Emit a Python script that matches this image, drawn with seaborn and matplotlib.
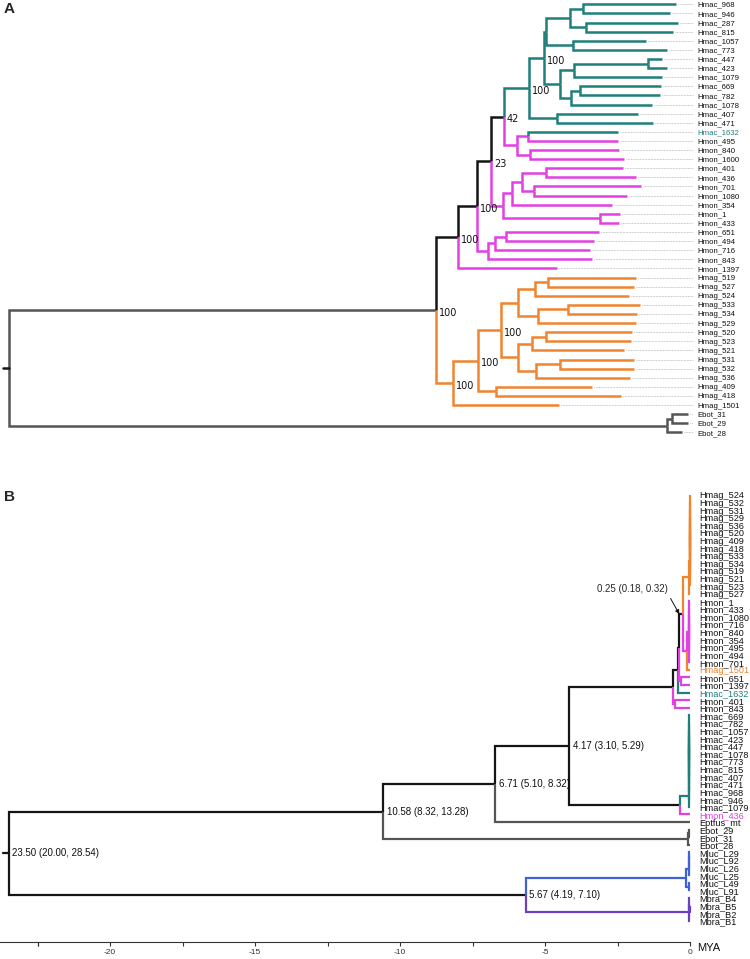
import matplotlib
matplotlib.use("Agg")
import matplotlib.pyplot as plt
import seaborn as sns

sns.set_theme(style="white")
plt.rcParams["font.family"] = ["Liberation Sans", "DejaVu Sans"]

# ---------------- panel A : ML tree (distance from root, arbitrary units) ----------------
tips_a = ["Hmac_968", "Hmac_946", "Hmac_287", "Hmac_815", "Hmac_1057", "Hmac_773",
          "Hmac_447", "Hmac_423", "Hmac_1079", "Hmac_669", "Hmac_782", "Hmac_1078",
          "Hmac_407", "Hmac_471", "Hmac_1632",
          "Hmon_495", "Hmon_840", "Hmon_1600", "Hmon_401", "Hmon_436", "Hmon_701",
          "Hmon_1080", "Hmon_354", "Hmon_1", "Hmon_433", "Hmon_651", "Hmon_494",
          "Hmon_716", "Hmon_843", "Hmon_1397",
          "Hmag_519", "Hmag_527", "Hmag_524", "Hmag_533", "Hmag_534", "Hmag_529",
          "Hmag_520", "Hmag_523", "Hmag_521", "Hmag_531", "Hmag_532", "Hmag_536",
          "Hmag_409", "Hmag_418", "Hmag_1501",
          "Ebot_31", "Ebot_29", "Ebot_28"]
tip_depth_a = [6.67, 6.61, 6.69, 6.64, 6.37, 6.58,
               6.53, 6.58, 6.53, 6.52, 6.51, 6.43,
               6.29, 6.44, 6.09,
               6.09, 6.10, 6.15, 6.14, 6.27, 6.32,
               6.18, 6.03, 6.11, 6.10, 5.90, 5.85,
               5.81, 5.83, 5.48,
               6.27, 6.25, 6.20, 6.31, 6.28, 6.27,
               6.23, 6.22, 6.15, 6.25, 6.25, 6.21,
               5.83, 6.12, 5.50,
               6.79, 6.79, 6.73]
# (node, children, depth, bootstrap)
nodes_a = [
    ("a1", ["Hmac_968", "Hmac_946"], 5.74, ""),
    ("a2", ["Hmac_287", "Hmac_815"], 5.77, ""),
    ("a3", ["a1", "a2"], 5.61, ""),
    ("a4", ["Hmac_1057", "Hmac_773"], 5.64, ""),
    ("a5", ["a3", "a4"], 5.37, ""),
    ("a6", ["Hmac_447", "Hmac_423"], 6.39, ""),
    ("a7", ["a6", "Hmac_1079"], 5.65, ""),
    ("a8", ["Hmac_669", "Hmac_782"], 5.71, ""),
    ("a9", ["a8", "Hmac_1078"], 5.62, ""),
    ("a10", ["a7", "a9"], 5.51, ""),
    ("a11", ["a5", "a10"], 5.35, "100"),
    ("a12", ["Hmac_407", "Hmac_471"], 5.48, ""),
    ("hmac", ["a11", "a12"], 5.20, "100"),
    ("m1", ["Hmac_1632", "Hmon_495"], 5.19, ""),
    ("m2", ["Hmon_840", "Hmon_1600"], 5.21, ""),
    ("m3", ["m1", "m2"], 5.08, ""),
    ("n42", ["hmac", "m3"], 4.95, "42"),
    ("m4", ["Hmon_401", "Hmon_436"], 5.37, ""),
    ("m5", ["Hmon_701", "Hmon_1080"], 5.25, ""),
    ("m6", ["m4", "m5"], 5.13, ""),
    ("m7", ["m6", "Hmon_354"], 5.03, ""),
    ("m8", ["Hmon_1", "Hmon_433"], 5.91, ""),
    ("m9", ["m7", "m8"], 4.94, ""),
    ("n23", ["n42", "m9"], 4.82, "23"),
    ("m10", ["Hmon_651", "Hmon_494"], 4.97, ""),
    ("m11", ["m10", "Hmon_716"], 4.86, ""),
    ("m12", ["m11", "Hmon_843"], 4.79, ""),
    ("na2", ["n23", "m12"], 4.68, "100"),
    ("na1", ["na2", "Hmon_1397"], 4.49, "100"),
    ("g1", ["Hmag_519", "Hmag_527"], 5.39, ""),
    ("g2", ["g1", "Hmag_524"], 5.26, ""),
    ("g3", ["Hmag_533", "Hmag_534"], 5.59, ""),
    ("g4", ["g3", "Hmag_529"], 5.29, ""),
    ("g5", ["g2", "g4"], 5.09, ""),
    ("g6", ["Hmag_520", "Hmag_523"], 5.37, ""),
    ("g7", ["g6", "Hmag_521"], 5.23, ""),
    ("g8", ["Hmag_531", "Hmag_532"], 5.51, ""),
    ("g9", ["g8", "Hmag_536"], 5.27, ""),
    ("g10", ["g7", "g9"], 5.09, ""),
    ("g11", ["g5", "g10"], 4.92, "100"),
    ("g12", ["Hmag_409", "Hmag_418"], 4.87, ""),
    ("g13", ["g11", "g12"], 4.69, "100"),
    ("hmag", ["g13", "Hmag_1501"], 4.44, "100"),
    ("ingroup", ["na1", "hmag"], 4.27, "100"),
    ("e1", ["Ebot_31", "Ebot_29"], 6.63, ""),
    ("ebot", ["e1", "Ebot_28"], 6.58, ""),
    ("root", ["ingroup", "ebot"], 0.0, ""),
]

# ---------------- panel B : time tree (age, MYA) ----------------
tips_b = ["Hmag_524", "Hmag_532", "Hmag_531", "Hmag_529", "Hmag_536", "Hmag_520",
          "Hmag_409", "Hmag_418", "Hmag_533", "Hmag_534", "Hmag_519", "Hmag_521",
          "Hmag_523", "Hmag_527",
          "Hmon_1", "Hmon_433", "Hmon_1080", "Hmon_716", "Hmon_840", "Hmon_354",
          "Hmon_495", "Hmon_494", "Hmon_701", "Hmag_1501", "Hmon_651", "Hmon_1397",
          "Hmac_1632", "Hmon_401", "Hmon_843",
          "Hmac_669", "Hmac_782", "Hmac_1057", "Hmac_423", "Hmac_447", "Hmac_1078",
          "Hmac_773", "Hmac_815", "Hmac_407", "Hmac_471", "Hmac_968", "Hmac_946",
          "Hmac_1079", "Hmon_436",
          "Eptfus_mt", "Ebot_29", "Ebot_31", "Ebot_28",
          "Mluc_L29", "Mluc_L92", "Mluc_L26", "Mluc_L25", "Mluc_L49", "Mluc_L91",
          "Mbra_B4", "Mbra_B5", "Mbra_B2", "Mbra_B1"]
# (node, children, age in MYA, annotation)
nodes_b = [
    ("b_mag1", tips_b[0:12], 0.01, ""),
    ("b_mag2", ["b_mag1", "Hmag_523"], 0.015, ""),
    ("b_mag", ["b_mag2", "Hmag_527"], 0.02, ""),
    ("b_mon1", tips_b[14:23], 0.05, ""),
    ("b_mon", ["b_mon1", "Hmag_1501"], 0.12, ""),
    ("b025", ["b_mag", "b_mon"], 0.25, ""),
    ("b_k", ["Hmon_651", "Hmon_1397"], 0.30, ""),
    ("b_t", ["b025", "b_k"], 0.38, ""),
    ("b_u", ["b_t", "Hmac_1632"], 0.42, ""),
    ("b_p", ["Hmon_401", "Hmon_843"], 0.52, ""),
    ("b_s", ["b_u", "b_p"], 0.58, ""),
    ("b_mac1", tips_b[29:39], 0.02, ""),
    ("b_mac2", ["b_mac1", "Hmac_968"], 0.03, ""),
    ("b_mac3", ["b_mac2", "Hmac_946"], 0.04, ""),
    ("b_mac", ["b_mac3", "Hmac_1079"], 0.05, ""),
    ("b_macall", ["b_mac", "Hmon_436"], 0.34, ""),
    ("b417", ["b_s", "b_macall"], 4.17, "4.17 (3.10, 5.29)"),
    ("b671", ["b417", "Eptfus_mt"], 6.71, "6.71 (5.10, 8.32)"),
    ("b_eb1", ["Ebot_29", "Ebot_31"], 0.02, ""),
    ("b_eb", ["b_eb1", "Ebot_28"], 0.06, ""),
    ("b1058", ["b671", "b_eb"], 10.58, "10.58 (8.32, 13.28)"),
    ("b_ml1", ["Mluc_L29", "Mluc_L92"], 0.02, ""),
    ("b_ml2", ["b_ml1", "Mluc_L26"], 0.03, ""),
    ("b_ml3", ["b_ml2", "Mluc_L25"], 0.04, ""),
    ("b_ml4", ["Mluc_L49", "Mluc_L91"], 0.02, ""),
    ("b_ml", ["b_ml3", "b_ml4"], 0.14, ""),
    ("b_mb1", ["Mbra_B5", "Mbra_B2"], 0.01, ""),
    ("b_mb2", ["Mbra_B4", "b_mb1"], 0.02, ""),
    ("b_mb", ["b_mb2", "Mbra_B1"], 0.03, ""),
    ("b567", ["b_ml", "b_mb"], 5.67, "5.67 (4.19, 7.10)"),
    ("root", ["b1058", "b567"], 23.50, "23.50 (20.00, 28.54)"),
]
arrow_label_b = "0.25 (0.18, 0.32)"
arrow_node_b = "b025"
ticks_b = [-20, -15, -10, -5, 0]

# ---------------- styles ----------------
TEAL, MAG, ORA, BLK, GRY = "#1f7f7b", "#e33fe3", "#f0842f", "#151515", "#555555"
BLUE, PURP = "#3d62dc", "#6b40c4"
col_a = {"ingroup": GRY, "na1": BLK, "hmac": TEAL, "m3": MAG, "m9": MAG, "m12": MAG,
         "Hmon_1397": MAG, "Hmac_1632": TEAL, "hmag": ORA, "ebot": GRY}
col_b = {"b_mag": ORA, "b_mon": MAG, "Hmag_1501": ORA, "b_k": MAG, "b_p": MAG,
         "Hmac_1632": TEAL, "b_mac": TEAL, "Hmon_436": MAG, "Eptfus_mt": GRY,
         "b_eb": GRY, "b_ml": BLUE, "b_mb": PURP}
label_col_b = {"Hmag_1501": ORA, "Hmac_1632": TEAL, "Hmon_436": MAG}
label_col_a = {"Hmac_1632": TEAL}
NODE_FONT = ["Liberation Sans Narrow", "Liberation Sans"]


def layout(tips, tip_x, nodes):
    pos = {t: (x, i) for i, (t, x) in enumerate(zip(tips, tip_x))}
    kids = {}
    for name, ch, x, _ in nodes:
        ys = [pos[c][1] for c in ch]
        pos[name] = (x, (min(ys) + max(ys)) / 2)
        kids[name] = ch
    return pos, kids


def draw_tree(ax, pos, kids, colors, root_col, lw):
    stack = [("root", root_col)]
    while stack:
        n, col = stack.pop()
        for c in kids.get(n, []):
            cc = colors.get(c, col)
            x0, y0 = pos[n]
            x1, y1 = pos[c]
            ax.plot([x0, x0, x1], [y0, y1, y1], color=cc, lw=lw,
                    solid_joinstyle="miter", solid_capstyle="butt")
            stack.append((c, cc))


fig = plt.figure(figsize=(7.5, 9.59), dpi=100)

# ----- A -----
axA = fig.add_axes([0, 1 - 480 / 959, 1, 480 / 959])
posA, kidsA = layout(tips_a, tip_depth_a, nodes_a)
draw_tree(axA, posA, kidsA, col_a, GRY, 1.8)
rx, ry = posA["root"]
axA.plot([rx - 0.06, rx], [ry, ry], color=BLK, lw=1.8)
for t in tips_a:
    x, y = posA[t]
    axA.plot([x + 0.02, 6.84], [y, y], color="#9a9a9a", lw=0.5, ls=(0, (1, 1.2)))
    axA.text(6.88, y + 0.1, t, fontsize=5.6, va="center", ha="left",
             color=label_col_a.get(t, "#111111"))
for name, ch, x, lab in nodes_a:
    if lab:
        axA.text(x + 0.03, posA[name][1] + 0.3, lab, fontsize=7, va="center", ha="left",
                 family=["DejaVu Sans"], color="#111111")
axA.set_xlim(-0.09, 7.41)
axA.set_ylim(52.22, -0.472)
axA.axis("off")

# ----- B -----
axB = fig.add_axes([0, (959 - 941.7) / 959, 1, 461.7 / 959])
posB, kidsB = layout(tips_b, [0.0] * len(tips_b),
                     [(n, c, -age, lab) for n, c, age, lab in nodes_b])
draw_tree(axB, posB, kidsB, col_b, BLK, 1.6)
rx, ry = posB["root"]
axB.plot([rx - 0.2, rx], [ry, ry], color=BLK, lw=1.6)
for t in tips_b:
    x, y = posB[t]
    axB.text(0.31, y + 0.15, t, fontsize=6.6, va="center", ha="left",
             color=label_col_b.get(t, "#111111"))
for name, ch, age, lab in nodes_b:
    if lab:
        axB.text(-age + 0.12, posB[name][1], lab, fontsize=7, va="center", ha="left",
                 family=NODE_FONT, color="#111111")
ax_, ay_ = posB[arrow_node_b]
axB.annotate(arrow_label_b, xy=(ax_ - 0.12, ay_), xytext=(-3.2, ay_ - 3.3),
             fontsize=7, family=NODE_FONT, ha="left", va="center",
             arrowprops=dict(arrowstyle="-|>", color="#111111", lw=0.7,
                             mutation_scale=6, shrinkA=1, shrinkB=0,
                             relpos=(1.0, 0.0)))
axB.set_xlim(-690 / 29, 60 / 29)
axB.set_ylim(58.74, -1.93)
for s in ["top", "right", "left"]:
    axB.spines[s].set_visible(False)
axB.spines["bottom"].set_bounds(-690 / 29, 0)
axB.spines["bottom"].set_color("#333333")
axB.spines["bottom"].set_linewidth(0.8)
axB.set_yticks([])
axB.set_xticks(ticks_b)
axB.set_xticklabels([str(v) for v in ticks_b], fontsize=6)
axB.set_xticks([v - 2.5 for v in ticks_b] + [-22.5], minor=True)
axB.tick_params(axis="x", which="both", direction="out", length=3, width=0.8,
                color="#333333", bottom=True, pad=2, labelcolor="#333333")

fig.text(697 / 750, 1 - 948 / 959, "MYA", fontsize=8, va="center", ha="left", color="#111111")
fig.text(4 / 750, 1 - 9 / 959, "A", fontsize=11, fontweight="bold", va="center", ha="left")
fig.text(4 / 750, 1 - 497 / 959, "B", fontsize=11, fontweight="bold", va="center", ha="left")

fig.savefig("out.png", dpi=100)
